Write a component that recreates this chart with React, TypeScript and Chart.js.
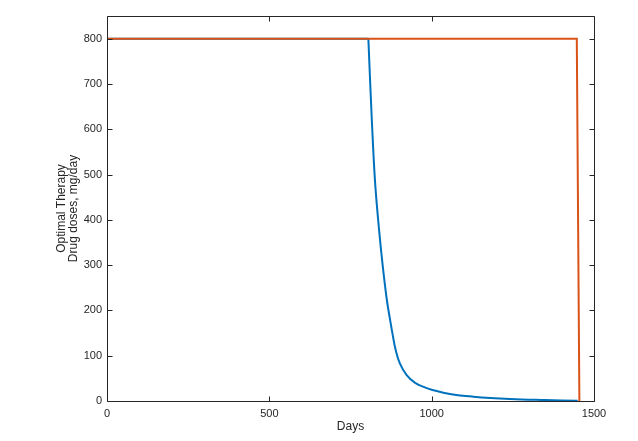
import React, { useEffect, useRef } from "react";
import { Chart, registerables } from "chart.js";

Chart.register(...registerables);

const blueDays = [0, 805, 812, 820, 827, 838, 849, 862, 872, 879, 889, 902, 923, 949, 979, 1000, 1056, 1128, 1241, 1350, 1450];
const blueDose = [800, 800, 680, 555, 470, 378, 300, 223, 179, 150, 113, 83, 57, 40, 30, 25, 15.5, 9.5, 4.4, 2, 0.5];
const orangeDays = [0, 1447, 1455];
const orangeDose = [800, 800, 0];
const xTicks = [0, 500, 1000, 1500];
const yTicks = [0, 100, 200, 300, 400, 500, 600, 700, 800];

const AXIS = "#262626";
const FONT = "'Liberation Sans', Arial, sans-serif";
const BLUE = "#0072BD";

const blueFlat = blueDays.slice(0, 2).map((d, i) => ({ x: d, y: blueDose[i] }));
const blueDecay = blueDays.slice(1).map((d, i) => ({ x: d, y: blueDose[i + 1] }));

const boxPlugin = {
  id: "matlabBox",
  afterDraw(chart: any) {
    const { ctx, chartArea } = chart;
    const { left, right, top, bottom } = chartArea;
    const xs = chart.scales.x;
    const ys = chart.scales.y;
    const tl = 5;
    ctx.save();
    ctx.strokeStyle = AXIS;
    ctx.lineWidth = 1;
    ctx.beginPath();
    const L = Math.round(left) + 0.5, R = Math.round(right) + 0.5, T = Math.round(top) + 0.5, B = Math.round(bottom) + 0.5;
    ctx.rect(L, T, R - L, B - T);
    xTicks.forEach((v) => {
      const px = Math.round(xs.getPixelForValue(v)) + 0.5;
      ctx.moveTo(px, B); ctx.lineTo(px, B - tl);
      ctx.moveTo(px, T); ctx.lineTo(px, T + tl);
    });
    yTicks.forEach((v) => {
      const py = Math.round(ys.getPixelForValue(v)) + 0.5;
      ctx.moveTo(L, py); ctx.lineTo(L + tl, py);
      ctx.moveTo(R, py); ctx.lineTo(R - tl, py);
    });
    ctx.stroke();
    ctx.restore();
  },
};

export default function App() {
  const ref = useRef<HTMLCanvasElement>(null);
  useEffect(() => {
    if (!ref.current) return;
    const chart = new Chart(ref.current, {
      type: "line",
      data: {
        datasets: [
          {
            label: "Drug 2",
            data: orangeDays.map((d, i) => ({ x: d, y: orangeDose[i] })),
            borderColor: "#D95319",
            borderWidth: 2,
            pointRadius: 0,
            fill: false,
          },
          {
            label: "Drug 1",
            data: blueFlat,
            borderColor: BLUE,
            borderWidth: 2,
            pointRadius: 0,
            fill: false,
          },
          {
            label: "Drug 1 decay",
            data: blueDecay,
            borderColor: BLUE,
            borderWidth: 2,
            pointRadius: 0,
            fill: false,
            tension: 0.4,
          },
        ],
      },
      options: {
        animation: false,
        responsive: false,
        devicePixelRatio: 1,
        layout: { padding: { left: 0, top: 16, right: 44, bottom: 0 } },
        plugins: { legend: { display: false }, tooltip: { enabled: false } },
        scales: {
          x: {
            type: "linear",
            min: 0,
            max: 1500,
            afterBuildTicks: (s: any) => { s.ticks = xTicks.map((v) => ({ value: v })); },
            afterFit: (s: any) => { s.height = 40; },
            grid: { display: false, drawTicks: false },
            border: { display: false },
            ticks: { padding: 6, color: AXIS, font: { family: FONT, size: 11 }, maxRotation: 0, callback: (v: any) => String(v) },
            title: {
              display: true,
              text: "Days",
              color: AXIS,
              font: { family: FONT, size: 12, lineHeight: 1.1 },
              padding: { top: 0, bottom: 8 },
            },
          },
          y: {
            type: "linear",
            min: 0,
            max: 850,
            afterBuildTicks: (s: any) => { s.ticks = yTicks.map((v) => ({ value: v })); },
            afterFit: (s: any) => { s.width = 107; },
            grid: { display: false, drawTicks: false },
            border: { display: false },
            ticks: { padding: 5, color: AXIS, font: { family: FONT, size: 11 }, callback: (v: any) => String(v) },
            title: {
              display: true,
              text: ["Optimal Therapy", "Drug doses, mg/day"],
              color: AXIS,
              font: { family: FONT, size: 12, lineHeight: 1.05 },
              padding: { top: 55, bottom: 0 },
            },
          },
        },
      },
      plugins: [boxPlugin],
    });
    return () => chart.destroy();
  }, []);
  return (
    <canvas
      ref={ref}
      width={638}
      height={441}
      style={{ position: "fixed", left: 0, top: 0, width: 638, height: 441, background: "#fff" }}
    />
  );
}
